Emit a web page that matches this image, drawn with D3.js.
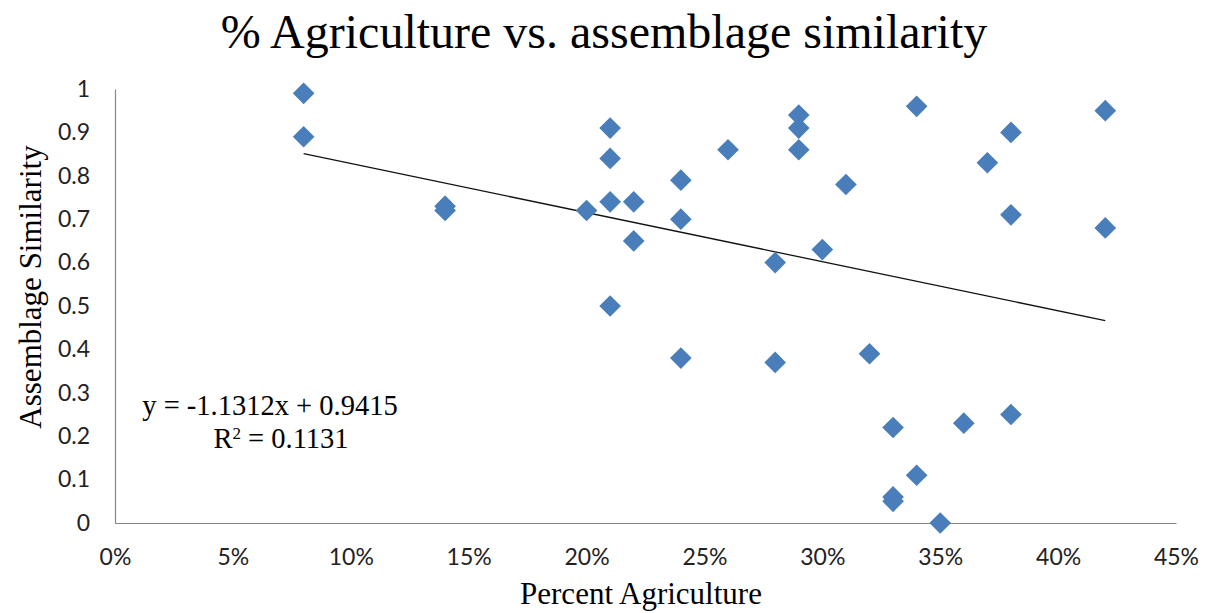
<!DOCTYPE html>
<html>
<head>
<meta charset="utf-8">
<script src="https://cdn.jsdelivr.net/npm/d3@7"></script>
<style>
  body { margin: 0; background: #fff; }
  svg { display: block; }
</style>
</head>
<body>
<div id="chart"></div>
<script>
// data
const pctAgriculture = [0.08, 0.08, 0.14, 0.14, 0.20, 0.21, 0.21, 0.21, 0.21, 0.22, 0.22,
    0.24, 0.24, 0.24, 0.26, 0.28, 0.28, 0.29, 0.29, 0.29, 0.30, 0.31, 0.32, 0.33, 0.33, 0.33,
    0.34, 0.34, 0.35, 0.36, 0.37, 0.38, 0.38, 0.38, 0.42, 0.42];
const similarity = [0.99, 0.89, 0.73, 0.72, 0.72, 0.91, 0.84, 0.74, 0.50, 0.74, 0.65,
    0.79, 0.70, 0.38, 0.86, 0.60, 0.37, 0.94, 0.91, 0.86, 0.63, 0.78, 0.39, 0.22, 0.06, 0.05,
    0.96, 0.11, 0.00, 0.23, 0.83, 0.90, 0.71, 0.25, 0.95, 0.68];
const xTicks = [0, 0.05, 0.10, 0.15, 0.20, 0.25, 0.30, 0.35, 0.40, 0.45];
const yTicks = [0, 0.1, 0.2, 0.3, 0.4, 0.5, 0.6, 0.7, 0.8, 0.9, 1];
const slope = -1.1312;
const intercept = 0.9415;
const rSquared = 0.1131;

const width = 1208, height = 613;
const margin = { left: 115, right: 32, top: 89, bottom: 90 };
const serif = '"Liberation Serif", "Times New Roman", serif';

const svg = d3.select('#chart').append('svg')
    .attr('width', width)
    .attr('height', height);

const x = d3.scaleLinear().domain([0, 0.45]).range([margin.left, width - margin.right]);
const y = d3.scaleLinear().domain([0, 1]).range([height - margin.bottom, margin.top]);

// title
svg.append('text')
    .attr('x', 604)
    .attr('y', 48)
    .attr('text-anchor', 'middle')
    .style('font-family', serif)
    .style('font-size', '48px')
    .style('fill', '#000')
    .text('% Agriculture vs. assemblage similarity');

// axes
const xAxis = svg.append('g')
    .attr('transform', `translate(0, ${y(0)})`)
    .call(d3.axisBottom(x).tickValues(xTicks).tickSize(0).tickPadding(26)
        .tickFormat(d => Math.round(d * 100) + '%'));

const yAxis = svg.append('g')
    .attr('transform', `translate(${x(0)}, 0)`)
    .call(d3.axisLeft(y).tickValues(yTicks).tickSize(0).tickPadding(25)
        .tickFormat(d => d === 0 ? '0' : d === 1 ? '1' : d3.format('.1f')(d)));

[xAxis, yAxis].forEach(a => {
    a.select('.domain').attr('stroke', '#868686').attr('stroke-width', 1.2);
    a.selectAll('text')
        .style('font-family', 'Lato, "Open Sans", sans-serif')
        .style('font-size', '23px')
        .style('fill', '#222');
});

// axis titles
svg.append('text')
    .attr('x', 641)
    .attr('y', 604)
    .attr('text-anchor', 'middle')
    .style('font-family', serif)
    .style('font-size', '31px')
    .text('Percent Agriculture');

svg.append('text')
    .attr('transform', `translate(41, 287) rotate(-90)`)
    .attr('text-anchor', 'middle')
    .style('font-family', serif)
    .style('font-size', '31px')
    .text('Assemblage Similarity');

// trend line over the data range
const xMin = d3.min(pctAgriculture), xMax = d3.max(pctAgriculture);
svg.append('line')
    .attr('x1', x(xMin)).attr('y1', y(slope * xMin + intercept))
    .attr('x2', x(xMax)).attr('y2', y(slope * xMax + intercept))
    .attr('stroke', '#111')
    .attr('stroke-width', 1.3);

// points
const diamond = d3.symbol().type(d3.symbolSquare).size(235);
svg.append('g').selectAll('path')
    .data(pctAgriculture.map((v, i) => [v, similarity[i]]))
    .enter().append('path')
    .attr('d', diamond)
    .attr('transform', d => `translate(${x(d[0])}, ${y(d[1])}) rotate(45)`)
    .attr('fill', '#4a7ebb');

// equation label
const eq = svg.append('text')
    .style('font-family', serif)
    .style('font-size', '28.5px')
    .attr('text-anchor', 'middle');
eq.append('tspan')
    .attr('x', 270).attr('y', 415)
    .text(`y = ${slope}x  + ${intercept}`);
const r2 = eq.append('tspan').attr('x', 281).attr('y', 448);
r2.append('tspan').text('R');
r2.append('tspan').attr('dy', -9).style('font-size', '17px').text('2');
r2.append('tspan').attr('dy', 9).text(` = ${rSquared}`);
</script>
</body>
</html>
